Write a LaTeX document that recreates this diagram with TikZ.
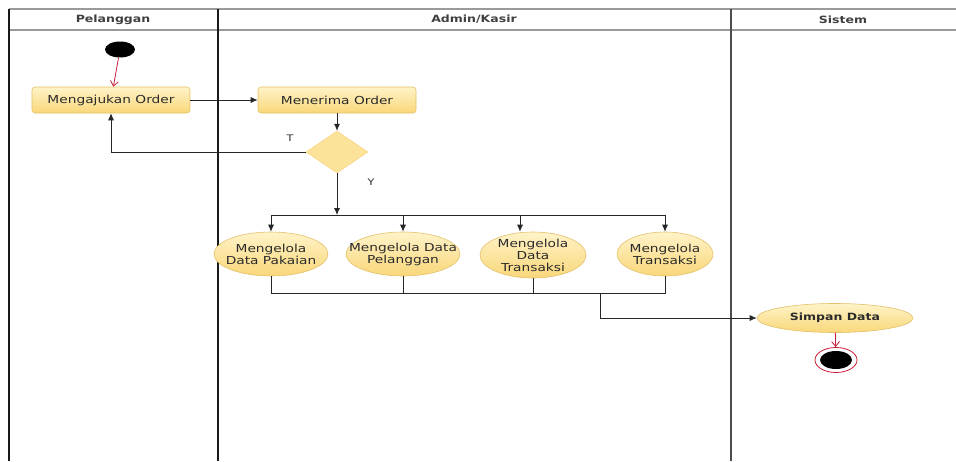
\documentclass[tikz,border=0pt]{standalone}
\usepackage{fontspec}
\setmainfont{DejaVu Sans}
\newfontfamily\lblfont[FakeStretch=1.25]{DejaVu Sans}
\usetikzlibrary{shapes.geometric,arrows.meta}
\definecolor{actfill}{HTML}{FCE39A}
\definecolor{acttop}{HTML}{FFF3C8}
\definecolor{actbot}{HTML}{F9D77A}
\definecolor{actdraw}{HTML}{E3C16A}
\definecolor{lanegray}{HTML}{9A9A9A}
\definecolor{txt}{HTML}{2B2B2B}
\definecolor{flowred}{HTML}{C8203A}
\tikzset{
  lbl/.style={font=\lblfont\fontsize{11}{12}\selectfont, text=txt},
  actbox/.style={lbl, draw=actdraw, line width=0.6pt, rounded corners=3pt,
    top color=acttop, bottom color=actbot, minimum width=158pt, minimum height=26pt, inner sep=0pt},
  usecase/.style={ellipse, draw=actdraw, line width=0.6pt,
    top color=acttop, bottom color=actbot, inner sep=0pt},
  uclabel/.style={lbl, align=center, inner sep=0pt},
  decision/.style={diamond, fill=actfill, draw=actfill!80!orange, line width=0.4pt,
    minimum width=62pt, minimum height=42pt, inner sep=0pt},
  flow/.style={draw=black!85, line width=0.8pt},
  arr/.style={flow, -{Latex[length=7pt,width=6pt]}},
  redarr/.style={draw=flowred, line width=0.8pt, -{Straight Barb[length=5pt,width=8pt]}},
  lane/.style={draw=black!90, line width=1.3pt},
  hdrline/.style={draw=lanegray, line width=1.4pt},
  hdr/.style={font=\lblfont\bfseries\fontsize{10}{12}\selectfont, text=black!75},
  guard/.style={font=\lblfont\fontsize{9}{10}\selectfont, text=txt}
}
\begin{document}
\begin{tikzpicture}[x=1pt,y=-1pt]
\useasboundingbox[fill=white] (0,0) rectangle (956,461);

% swimlanes
\draw[hdrline] (9,9) -- (956,9);
\draw[hdrline] (9,30) -- (956,30);
\draw[lane] (9,9) -- (9,461);
\draw[lane] (218,9) -- (218,461);
\draw[lane, draw=black!70] (731,9) -- (731,461);
\node[hdr] (h1) at (113,19.5) {Pelanggan};
\node[hdr] (h2) at (474,19.5) {Admin/Kasir};
\node[hdr] (h3) at (843,19.5) {Sistem};

% initial node
\node[ellipse, fill=black, minimum width=30pt, minimum height=16pt, inner sep=0pt] (start) at (120,49.5) {};

% actions
\node[actbox] (order) at (111,100) {Mengajukan Order};
\node[actbox] (terima) at (337,100) {Menerima Order};
\node[decision] (dec) at (337,152) {};

\node[usecase, minimum width=114pt, minimum height=44pt] (pakaian) at (271,254) {};
\node[uclabel] (pakaianT) at (pakaian) {Mengelola\\Data Pakaian};
\node[usecase, minimum width=114pt, minimum height=44pt] (pelanggan) at (403,254) {};
\node[uclabel] (pelangganT) at (pelanggan) {Mengelola Data\\Pelanggan};
\node[usecase, minimum width=106pt, minimum height=46pt] (datatr) at (533,255) {};
\node[uclabel] (datatrT) at (datatr) {Mengelola\\Data\\Transaksi};
\node[usecase, minimum width=96pt, minimum height=44pt] (transaksi) at (665,254) {};
\node[uclabel] (transaksiT) at (transaksi) {Mengelola\\Transaksi};

\node[usecase, minimum width=156pt, minimum height=29pt] (simpan) at (835,318) {};
\node[uclabel, font=\lblfont\bfseries\fontsize{10}{12}\selectfont] (simpanT) at (simpan) {Simpan Data};

% final node
\node[ellipse, draw=flowred, line width=0.8pt, fill=white, minimum width=42pt, minimum height=25pt, inner sep=0pt] (final) at (836,360) {};
\node[ellipse, fill=black, minimum width=32pt, minimum height=18pt, inner sep=0pt] (finalin) at (836,360) {};

% control flow
\draw[redarr] (start) -- (order);
\draw[arr] (order) -- (terima);
\draw[arr] (terima) -- (dec);
\draw[arr] (dec.west) -| (order.south);
\node[guard] (lblT) at (290,138) {T};
\node[guard] (lblY) at (371,182) {Y};

\coordinate (fork) at (337,215);
\draw[arr] (dec.south) -- (fork);
\draw[flow] (pakaian.north |- fork) -- (transaksi.north |- fork);
\draw[arr] (pakaian.north |- fork) -- (pakaian.north);
\draw[arr] (pelanggan.north |- fork) -- (pelanggan.north);
\draw[arr] ([xshift=-13pt]datatr.north |- fork) -- ([xshift=-13pt]datatr.north);
\draw[arr] (transaksi.north |- fork) -- (transaksi.north);

\coordinate (join) at (600,293);
\draw[flow] (pakaian.south) -- (pakaian.south |- join) -- (transaksi.south |- join) -- (transaksi.south);
\draw[flow] (pelanggan.south) -- (pelanggan.south |- join);
\draw[flow] (datatr.south) -- (datatr.south |- join);
\draw[arr] (join) |- (simpan.west);

\draw[redarr] (simpan) -- (final);
\end{tikzpicture}
\end{document}
